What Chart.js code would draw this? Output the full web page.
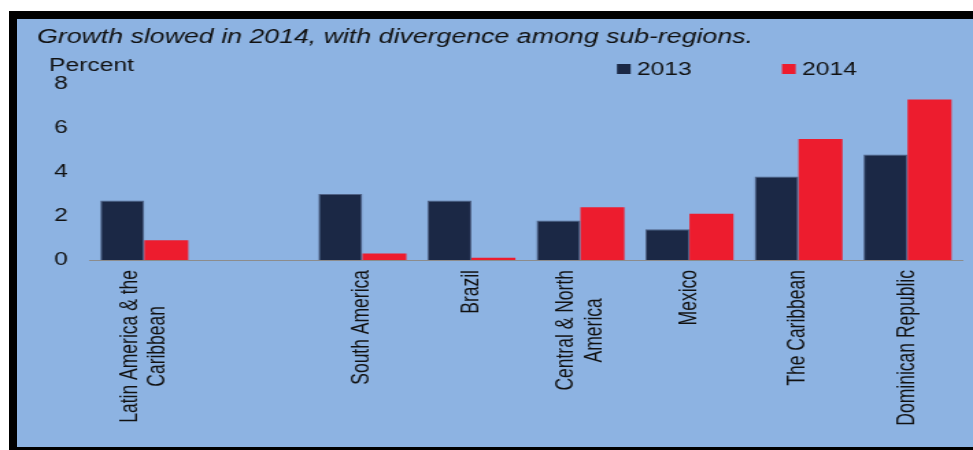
<!DOCTYPE html>
<html>
<head>
<meta charset="utf-8">
<script src="https://cdn.jsdelivr.net/npm/chart.js@4"></script>
<style>
  html, body { margin: 0; padding: 0; background: #fff; width: 973px; height: 450px; overflow: hidden; }
  /* black frame with light blue panel, open on the right like the source */
  #frame { position: absolute; left: 9px; top: 11px; width: 1000px; height: 428px; border: 8px solid #000; background: #8DB3E2; }
  /* the source picture is stretched sideways, so the canvas is drawn narrow and widened with css */
  #chart { position: absolute; left: 0; top: 0; }
</style>
</head>
<body>
<div id="frame"></div>
<canvas id="chart" width="710" height="450" style="width:973px;height:450px"></canvas>
<script>
// Dados do gráfico
const categories = [
    ['Latin America & the', 'Caribbean'],
    '',
    'South America',
    'Brazil',
    ['Central & North', 'America'],
    'Mexico',
    'The Caribbean',
    'Dominican Republic'
];
const seriesLabels = ['2013', '2014'];
const growth2013 = [2.7, null, 3.0, 2.7, 1.8, 1.4, 3.8, 4.8];
const growth2014 = [0.9, null, 0.3, 0.1, 2.4, 2.1, 5.5, 7.3];
const yTicks = [0, 2, 4, 6, 8];
const titleText = 'Growth slowed in 2014, with divergence among sub-regions.';
const unitText = 'Percent';

const FONT = '"Liberation Sans", Arial, sans-serif';
const X_FONT_SIZE = 17.5;

// Rótulos verticais do eixo x, linhas centralizadas entre si
const xLabelsPlugin = {
    id: 'xLabels',
    afterDraw(chart) {
        const ctx = chart.ctx;
        const xs = chart.scales.x;
        const lineH = X_FONT_SIZE * 1.17;
        ctx.save();
        ctx.font = X_FONT_SIZE + 'px ' + FONT;
        ctx.fillStyle = '#111';
        ctx.textAlign = 'center';
        ctx.textBaseline = 'middle';
        chart.data.labels.forEach((label, i) => {
            const lines = Array.isArray(label) ? label : [label];
            const maxW = Math.max(...lines.map(s => ctx.measureText(s).width));
            ctx.save();
            ctx.translate(xs.getPixelForValue(i), xs.top + 10);
            ctx.rotate(-Math.PI / 2);
            lines.forEach((s, j) => ctx.fillText(s, -maxW / 2, (j - (lines.length - 1) / 2) * lineH));
            ctx.restore();
        });
        ctx.restore();
    }
};

// Título, "Percent" e legenda
const headerPlugin = {
    id: 'header',
    afterDraw(chart) {
        const ctx = chart.ctx;
        ctx.save();
        ctx.textAlign = 'left';
        ctx.textBaseline = 'alphabetic';
        ctx.fillStyle = '#111';
        ctx.font = 'italic 19.5px ' + FONT;
        ctx.fillText(titleText, 27, 43);
        ctx.font = '18px ' + FONT;
        ctx.fillText(unitText, 35.8, 71);
        const legendX = [450.2, 570.6];
        chart.data.datasets.forEach((ds, i) => {
            ctx.fillStyle = ds.backgroundColor;
            ctx.fillRect(legendX[i], 64, 10, 10);
            ctx.fillStyle = '#111';
            ctx.fillText(ds.label, legendX[i] + 14.6, 75);
        });
        ctx.restore();
    }
};

const ctx = document.getElementById('chart').getContext('2d');
const chart = new Chart(ctx, {
    type: 'bar',
    data: {
        labels: categories,
        datasets: [
            {
                label: seriesLabels[0],
                data: growth2013,
                backgroundColor: '#1B2845',
                borderColor: '#4F6185',
                borderWidth: 1
            },
            {
                label: seriesLabels[1],
                data: growth2014,
                backgroundColor: '#ED1C2E',
                borderWidth: 0
            }
        ]
    },
    options: {
        responsive: false,
        animation: false,
        devicePixelRatio: 1,
        layout: { padding: { top: 84, left: 23.5, right: 8, bottom: 190 } },
        datasets: { bar: { categoryPercentage: 0.807, barPercentage: 1 } },
        plugins: {
            legend: { display: false },
            title: { display: false },
            tooltip: { enabled: false }
        },
        scales: {
            x: {
                grid: { display: false, drawTicks: false },
                border: { display: true, color: '#8C8C8C', width: 1 },
                ticks: { display: false }
            },
            y: {
                min: 0,
                max: 8,
                grid: { display: false, drawTicks: false },
                border: { display: false },
                afterBuildTicks: scale => { scale.ticks = yTicks.map(v => ({ value: v })); },
                ticks: {
                    padding: 16,
                    color: '#111',
                    font: { family: FONT, size: 18 }
                }
            }
        }
    },
    plugins: [xLabelsPlugin, headerPlugin]
});
</script>
</body>
</html>
